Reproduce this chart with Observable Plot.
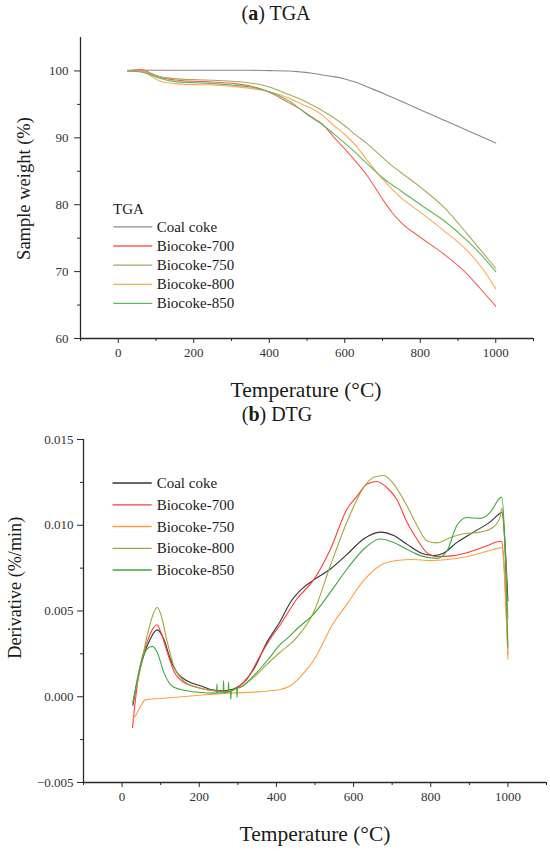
<!DOCTYPE html>
<html>
<head>
<meta charset="utf-8">
<script src="https://cdn.jsdelivr.net/npm/d3@7"></script>
<script src="https://cdn.jsdelivr.net/npm/@observablehq/plot@0.6"></script>
<style>
  html, body { margin: 0; padding: 0; background: #fff; }
  #root { position: relative; width: 550px; height: 852px; font-family: "Liberation Serif", serif; }
  #root svg { position: absolute; left: 0; font-family: "Liberation Serif", serif !important; }
  #root svg text { font-family: "Liberation Serif", serif; }
</style>
</head>
<body>
<div id="root"></div>
<script>
// ---------- TGA data ----------
const tgaTemp = [25,60,85,110,150,200,250,300,350,400,450,483,510,540,571,600,630,660,704,726,748,801,863,925,960,1000];
const tgaCoal = [100.1,100.1,100.1,100.1,100.1,100.1,100.1,100.1,100.1,100.05,100.0,99.85,99.7,99.4,99.15,98.8,98.3,97.6,96.6,96.05,95.5,94.17,92.64,91.1,90.22,89.23];
const tga700  = [100,100.2,99.7,99.05,98.65,98.45,98.35,98.15,97.75,96.8,95.3,94.25,93.2,92.1,90.1,88.35,86.4,84.3,80.5,78.8,77.4,75.1,72.6,69.6,67.4,64.85];
const tga750  = [100,100.0,99.6,99.15,98.85,98.7,98.6,98.45,98.2,97.6,96.5,95.75,95.0,94.1,93.0,91.8,90.4,89.1,86.85,85.8,84.85,82.6,79.6,75.6,73.2,70.5];
const tga800  = [100,99.95,99.3,98.5,98.1,97.95,97.9,97.7,97.4,96.9,96.0,95.1,94.45,93.4,91.85,90.5,88.8,86.6,83.6,82.3,81.1,78.85,76.1,73.1,70.8,67.45];
const tga850  = [100,99.85,99.45,98.9,98.4,98.25,98.1,97.9,97.6,96.9,95.6,94.25,93.1,92.0,90.6,89.2,87.7,86.1,83.85,82.95,82.1,80.0,77.6,74.6,72.6,70.0];
const tgaNames = ["Coal coke","Biocoke-700","Biocoke-750","Biocoke-800","Biocoke-850"];
const tgaColors = ["#8a8a8a","#ff5a5a","#a8a862","#ffa94f","#5cb85c"];

// ---------- DTG data ----------
const dtgCoalT = [28,39,56,73,91,108,125,142,168,203,237,263,289,315,341,376,410,436,462,496,540,583,626,669,704,738,773,807,833,868,911,954,980,984,1000];
const dtgCoalV = [-0.0005,0.00084,0.0024,0.00337,0.0039,0.00337,0.0022,0.00142,0.00093,0.00064,0.00039,0.00035,0.00045,0.00084,0.0016,0.0032,0.0044,0.0055,0.0062,0.0068,0.00745,0.0083,0.0092,0.0096,0.0094,0.0089,0.0084,0.00823,0.00837,0.009,0.0096,0.0102,0.0107,0.01075,0.0056];
const dtg700T = [27,32,47,65,82,91,99,117,134,160,194,237,272,298,324,358,384,410,453,496,540,583,609,635,660,686,712,738,764,790,816,859,902,945,980,984,1000];
const dtg700V = [-0.0018,-0.0007,0.0018,0.0032,0.00405,0.0042,0.00385,0.0026,0.0015,0.00084,0.00055,0.00035,0.0003,0.00055,0.00103,0.0024,0.00337,0.0042,0.0057,0.0068,0.0086,0.01095,0.0117,0.0124,0.01255,0.0122,0.0115,0.0102,0.0092,0.0084,0.00817,0.00823,0.00846,0.0088,0.00907,0.00905,0.0025];
const dtg750T = [28,35,47,60,99,186,272,358,410,436,453,475,496,520,540,583,626,669,712,755,799,842,885,928,980,984,1000];
const dtg750V = [-0.0013,-0.0011,-0.0006,-0.00018,-0.0001,0.00006,0.0002,0.0003,0.00042,0.00064,0.00095,0.0015,0.0021,0.0031,0.004,0.0054,0.00677,0.00765,0.00794,0.008,0.00794,0.008,0.00813,0.00837,0.00868,0.0087,0.0022];
const dtg800T = [28,47,65,82,91,99,117,134,160,194,237,272,306,341,376,410,453,496,540,583,626,652,678,704,738,764,790,816,842,885,928,963,980,984,1000];
const dtg800V = [-0.00033,0.0016,0.00356,0.0049,0.0052,0.0049,0.0032,0.0018,0.00093,0.00055,0.00035,0.00031,0.00055,0.00113,0.0019,0.0026,0.00346,0.0049,0.00765,0.0102,0.0122,0.0128,0.0129,0.0124,0.01115,0.01,0.0091,0.00897,0.0092,0.0095,0.0096,0.0099,0.0105,0.011,0.0046];
const dtg850T = [28,47,65,78,91,108,134,168,203,237,245,246,247,262,263,264,272,275,276,277,281,282,283,297,298,299,306,341,376,410,436,453,496,540,583,626,669,704,738,773,816,842,868,894,928,954,980,984,1000];
const dtg850V = [-0.00033,0.0018,0.0028,0.00294,0.0026,0.00142,0.00055,0.00035,0.00025,0.00021,0.00022,0.00074,0.00022,0.00024,0.00093,0.00024,0.00025,0.00026,0.00084,0.00027,0.0003,-0.00014,0.00032,0.0005,-0.00004,0.00052,0.00055,0.00123,0.0021,0.00305,0.00356,0.00395,0.0048,0.0061,0.00745,0.0086,0.0092,0.009,0.0086,0.00823,0.00807,0.0085,0.01,0.01045,0.0104,0.01075,0.0116,0.01165,0.0029];
const dtgNames = ["Coal coke","Biocoke-700","Biocoke-750","Biocoke-800","Biocoke-850"];
const dtgColors = ["#333333","#ff3c3c","#ffa040","#a6a63e","#3ea83e"];

// tick values
const xTicks = [0,200,400,600,800,1000];
const xMinor = [-100,100,300,500,700,900,1100];
const tgaYTicks = [60,70,80,90,100];
const tgaYMinor = [65,75,85,95];
const dtgYTicks = [-0.005,0,0.005,0.010,0.015];
const dtgYMinor = [-0.0025,0.0025,0.0075,0.0125];

// ---------- build rows ----------
const tgaSeries = [tgaCoal, tga700, tga750, tga800, tga850];
const tgaRows = tgaSeries.map(vals => tgaTemp.map((t, i) => ({t, v: vals[i]})));
const dtgT = [dtgCoalT, dtg700T, dtg750T, dtg800T, dtg850T];
const dtgV = [dtgCoalV, dtg700V, dtg750V, dtg800V, dtg850V];
const dtgRows = dtgT.map((ts, k) => ts.map((t, i) => ({t, v: dtgV[k][i]})));

const axisColor = "#2a2a2a";
const FONT = "Liberation Serif";
const rootEl = document.getElementById("root");
const plainFmt = d => String(d);
const blankFmt = () => "";

const tgaPlot = Plot.plot({
  width: 550, height: 370,
  marginLeft: 80, marginRight: 17, marginTop: 37, marginBottom: 32,
  x: {domain: [-100, 1100], label: null},
  y: {domain: [60, 105], label: null},
  style: {fontFamily: FONT, fontSize: "13px", color: "#333", background: "transparent", overflow: "visible"},
  marks: [
    ...tgaRows.map((rows, k) => Plot.line(rows, {x: "t", y: "v", stroke: tgaColors[k], strokeWidth: 1.1, curve: "monotone-x"})),
    Plot.axisX({ticks: xTicks, tickSize: 5, tickPadding: 4, tickFormat: plainFmt, label: null, stroke: axisColor, fontSize: 13, fontFamily: FONT}),
    Plot.axisX({ticks: xMinor, tickSize: 3, tickFormat: blankFmt, label: null, stroke: axisColor}),
    Plot.axisY({ticks: tgaYTicks, tickSize: 6, tickPadding: 6, tickFormat: plainFmt, label: null, stroke: axisColor, fontSize: 13, fontFamily: FONT}),
    Plot.axisY({ticks: tgaYMinor, tickSize: 3, tickFormat: blankFmt, label: null, stroke: axisColor}),
    Plot.ruleX([-100], {stroke: axisColor, strokeWidth: 1.3}),
    Plot.ruleY([60], {stroke: axisColor, strokeWidth: 1.3})
  ]
});
tgaPlot.style.top = "0px";
rootEl.appendChild(tgaPlot);

const dtgPlot = Plot.plot({
  width: 550, height: 420,
  marginLeft: 83, marginRight: 4, marginTop: 39, marginBottom: 38,
  x: {domain: [-100, 1100], label: null},
  y: {domain: [-0.005, 0.015], label: null},
  style: {fontFamily: FONT, fontSize: "13px", color: "#333", background: "transparent", overflow: "visible"},
  marks: [
    ...dtgRows.map((rows, k) => Plot.line(rows, {x: "t", y: "v", stroke: dtgColors[k], strokeWidth: 1.1, curve: "monotone-x"})),
    Plot.axisX({ticks: xTicks, tickSize: 5, tickPadding: 4, tickFormat: plainFmt, label: null, stroke: axisColor, fontSize: 13, fontFamily: FONT}),
    Plot.axisX({ticks: xMinor, tickSize: 3, tickFormat: blankFmt, label: null, stroke: axisColor}),
    Plot.axisY({ticks: dtgYTicks, tickSize: 6, tickPadding: 4, tickFormat: d3.format(".3f"), label: null, stroke: axisColor, fontSize: 13, fontFamily: FONT}),
    Plot.axisY({ticks: dtgYMinor, tickSize: 3, tickFormat: blankFmt, label: null, stroke: axisColor}),
    Plot.ruleX([-100], {stroke: axisColor, strokeWidth: 1.3}),
    Plot.ruleY([-0.005], {stroke: axisColor, strokeWidth: 1.3})
  ]
});
dtgPlot.style.top = "400px";
rootEl.appendChild(dtgPlot);

// ---------- text overlay: titles, axis labels, legends ----------
const ov = d3.select(rootEl).append("svg")
  .attr("width", 550).attr("height", 852)
  .style("top", "0px").style("pointer-events", "none")
  .attr("font-family", FONT).style("fill", "#1a1a1a");

function title(x, y, letter, rest) {
  const t = ov.append("text").attr("x", x).attr("y", y).attr("text-anchor", "middle").attr("font-size", 20);
  t.append("tspan").text("(");
  t.append("tspan").attr("font-weight", "bold").text(letter);
  t.append("tspan").text(") " + rest);
}
title(276, 19.5, "a", "TGA");
title(277, 421, "b", "DTG");

ov.append("text").attr("x", 306).attr("y", 397).attr("text-anchor", "middle").attr("font-size", 21.5).text("Temperature (°C)");
ov.append("text").attr("x", 315).attr("y", 841).attr("text-anchor", "middle").attr("font-size", 21.5).text("Temperature (°C)");
ov.append("text").attr("transform", "translate(30,188.5) rotate(-90)").attr("text-anchor", "middle").attr("font-size", 18.5).text("Sample weight (%)");
ov.append("text").attr("transform", "translate(21,587.7) rotate(-90)").attr("text-anchor", "middle").attr("font-size", 18.2).text("Derivative (%/min)");

// top legend
ov.append("text").attr("x", 113).attr("y", 214).attr("font-size", 15).text("TGA");
const topRowsY = [226.8, 246, 265.1, 284.3, 303.4];
tgaNames.forEach((name, k) => {
  ov.append("line").attr("x1", 113.3).attr("x2", 152.3).attr("y1", topRowsY[k]).attr("y2", topRowsY[k])
    .attr("stroke", tgaColors[k]).attr("stroke-width", 1.3);
  ov.append("text").attr("x", 156.7).attr("y", topRowsY[k] + 5).attr("font-size", 15).text(name);
});
// bottom legend
const botRowsY = [483, 504.8, 526.5, 548.3, 570];
dtgNames.forEach((name, k) => {
  ov.append("line").attr("x1", 112.5).attr("x2", 151.7).attr("y1", botRowsY[k]).attr("y2", botRowsY[k])
    .attr("stroke", dtgColors[k]).attr("stroke-width", 1.3);
  ov.append("text").attr("x", 156.7).attr("y", botRowsY[k] + 5).attr("font-size", 15).text(name);
});
</script>
</body>
</html>
